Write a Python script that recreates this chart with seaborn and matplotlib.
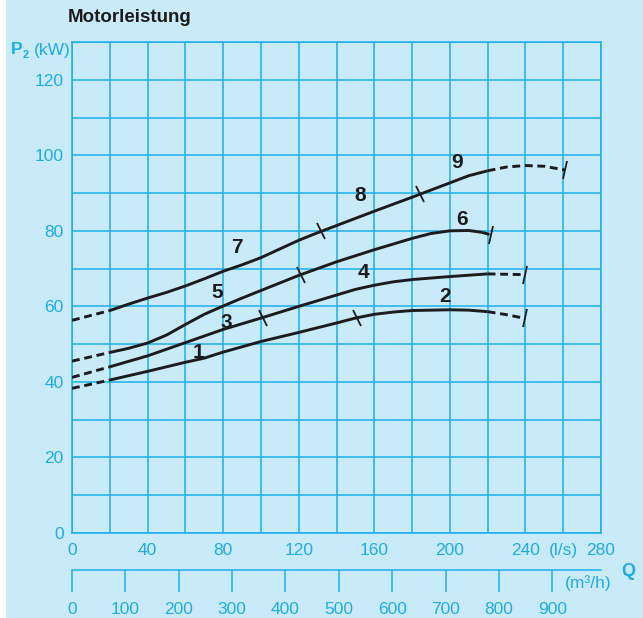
import numpy as np
import pandas as pd
import matplotlib
matplotlib.use("Agg")
import matplotlib.pyplot as plt
from matplotlib.markers import MarkerStyle
from matplotlib.transforms import Affine2D
from matplotlib.patches import Rectangle
import seaborn as sns

# ---- data: flow Q (l/s) against motor power P2 (kW) ----
# curve through operating points 7 - 8 - 9
q_a = [20, 30, 40, 50, 60, 70, 80, 90, 100, 110, 120, 130, 140, 160, 180, 200, 210, 220]
p_a = [58.9, 60.6, 62.2, 63.7, 65.4, 67.3, 69.3, 71.0, 72.9, 75.2, 77.5, 79.5, 81.4,
       85.2, 88.9, 92.7, 94.6, 95.9]
q_a_lo = [0, 20]
p_a_lo = [56.3, 58.9]
q_a_hi = [220, 230, 240, 250, 261]
p_a_hi = [95.9, 96.9, 97.3, 97.1, 96.1]

# curve through operating points 5 - 6
q_b = [20, 30, 40, 50, 60, 70, 80, 90, 100, 120, 140, 160, 180, 190, 200, 210, 217]
p_b = [47.8, 48.9, 50.3, 52.4, 55.2, 57.9, 60.1, 62.2, 64.2, 68.2, 71.8, 75.0, 78.0,
       79.3, 80.0, 80.1, 79.6]
q_b_lo = [0, 20]
p_b_lo = [45.5, 47.8]
q_b_hi = [217, 222]
p_b_hi = [79.6, 78.9]

# curve through operating points 3 - 4
q_c = [20, 40, 60, 80, 100, 120, 140, 150, 160, 170, 180, 200, 220]
p_c = [44.0, 46.9, 50.4, 53.9, 56.9, 60.0, 63.0, 64.5, 65.6, 66.5, 67.1, 67.9, 68.6]
q_c_lo = [0, 20]
p_c_lo = [41.2, 44.0]
q_c_hi = [220, 230, 240]
p_c_hi = [68.6, 68.5, 68.4]

# curve through operating points 1 - 2
q_d = [20, 40, 60, 70, 80, 90, 100, 120, 140, 150, 160, 170, 180, 200, 210, 220]
p_d = [40.5, 42.8, 45.2, 46.3, 47.9, 49.3, 50.7, 53.1, 55.6, 56.9, 57.9, 58.5, 58.9,
       59.1, 59.0, 58.6]
q_d_lo = [0, 20]
p_d_lo = [38.3, 40.5]
q_d_hi = [220, 230, 240]
p_d_hi = [58.6, 57.8, 56.8]

# boundary ticks between operating ranges, and end-of-curve ticks (Q in l/s)
split_ticks = {"a": [132, 184], "b": [121], "c": [101], "d": [151]}
end_ticks = {"a": [261], "b": [222], "c": [240], "d": [240]}

# operating point numbers: text, Q, P
point_labels = ["1", "2", "3", "4", "5", "6", "7", "8", "9"]
point_q = [67.2, 197.5, 81.5, 154.0, 76.8, 206.4, 87.4, 152.5, 203.8]
point_p = [47.8, 62.6, 55.8, 69.0, 63.7, 83.0, 75.6, 89.4, 98.1]

x_ticks = list(range(0, 281, 20))
x_labels = ["0", "", "40", "", "80", "", "120", "", "160", "", "200", "", "240", "(l/s)", "280"]
y_ticks = list(range(0, 131, 10))
y_labels = ["0", "", "20", "", "40", "", "60", "", "80", "", "100", "", "120", ""]
m3h_ticks = list(range(0, 1000, 100))
M3H_PER_LS = 3.54

# ---- style ----
BG = "#c8eaf9"
BLUE = "#1cafea"
TXT = "#22ace6"
INK = "#1c1c1c"
W, H = 643, 618

sns.set_theme(style="white")
plt.rcParams["font.family"] = ["Liberation Sans", "DejaVu Sans"]

fig = plt.figure(figsize=(W / 100, H / 100), dpi=100)
fig.patch.set_facecolor("white")
fig.add_artist(Rectangle((6 / W, 0), 1, 1, transform=fig.transFigure,
                         facecolor=BG, edgecolor="none", zorder=-10))

ax = fig.add_axes([72 / W, 85 / H, 529 / W, 491 / H])
ax.set_facecolor(BG)

# long-form table of all line pieces
rows = []
pieces = {
    "a": [(q_a_lo, p_a_lo, "dash"), (q_a, p_a, "solid"), (q_a_hi, p_a_hi, "dash")],
    "b": [(q_b_lo, p_b_lo, "dash"), (q_b, p_b, "solid"), (q_b_hi, p_b_hi, "dash")],
    "c": [(q_c_lo, p_c_lo, "dash"), (q_c, p_c, "solid"), (q_c_hi, p_c_hi, "dash")],
    "d": [(q_d_lo, p_d_lo, "dash"), (q_d, p_d, "solid"), (q_d_hi, p_d_hi, "dash")],
}
for name, parts in pieces.items():
    for i, (qs, ps, kind) in enumerate(parts):
        for q, p in zip(qs, ps):
            rows.append({"seg": f"{name}{i}", "kind": kind, "Q": q, "P": p})
df = pd.DataFrame(rows)

sns.lineplot(data=df, x="Q", y="P", units="seg", estimator=None, sort=False,
             style="kind", dashes={"solid": "", "dash": (2.7, 1.6)},
             color=INK, linewidth=2.1, legend=False, ax=ax, zorder=3)
for ln in ax.get_lines():
    ln.set_solid_joinstyle("round")
    ln.set_solid_capstyle("butt")

def curve_value(name, q):
    parts = pieces[name]
    qs = np.concatenate([np.asarray(p[0], float) for p in parts])
    ps = np.concatenate([np.asarray(p[1], float) for p in parts])
    order = np.argsort(qs, kind="stable")
    return np.interp(q, qs[order], ps[order])

def draw_ticks(ticks, angle):
    mk = MarkerStyle("|", transform=Affine2D().rotate_deg(angle))
    for name, qs in ticks.items():
        for q in qs:
            ax.plot([q], [curve_value(name, q)], linestyle="none", marker=mk,
                    markersize=13, markeredgewidth=1.3, color=INK, zorder=4)

draw_ticks(split_ticks, 26)
draw_ticks(end_ticks, -15)

for t, q, p in zip(point_labels, point_q, point_p):
    ax.text(q, p, t, ha="center", va="center", fontsize=15,
            fontweight="bold", color=INK, zorder=5)

ax.set_xlim(0, 280)
ax.set_ylim(0, 130)
ax.set_xticks(x_ticks)
ax.set_xticklabels(x_labels)
ax.set_yticks(y_ticks)
ax.set_yticklabels(y_labels)
ax.set_xlabel("")
ax.set_ylabel("")
ax.set_axisbelow(True)
ax.grid(True, color=BLUE, linewidth=1.1)
ax.tick_params(axis="both", length=0, labelsize=12.5, labelcolor=TXT)
ax.tick_params(axis="x", pad=7)
ax.tick_params(axis="y", pad=6)
for s in ax.spines.values():
    s.set_visible(True)
    s.set_color(BLUE)
    s.set_linewidth(1.1)

# second flow scale in m3/h
sec = ax.secondary_xaxis(-37 / 491, functions=(lambda q: q * M3H_PER_LS,
                                               lambda m: m / M3H_PER_LS))
sec.set_xticks(m3h_ticks)
sec.tick_params(direction="out", length=15.8, width=1.1, color=BLUE,
                labelcolor=TXT, labelsize=12.5, pad=7)
for s in sec.spines.values():
    s.set_color(BLUE)
    s.set_linewidth(1.1)

def px(x, y):
    return x / W, 1 - y / H

fig.text(*px(68, 18), "Motorleistung", ha="left", va="center",
         fontsize=13.5, fontweight="bold", color=INK)
fig.text(*px(11, 49), "P", ha="left", va="center", fontsize=12.5,
         fontweight="bold", color=TXT)
fig.text(*px(23, 55), "2", ha="left", va="center", fontsize=8,
         fontweight="bold", color=TXT)
fig.text(*px(33.5, 50), "(kW)", ha="left", va="center", fontsize=12.5, color=TXT)
fig.text(*px(628, 572), "Q", ha="center", va="center", fontsize=13,
         fontweight="bold", color=TXT)
fig.text(*px(588, 583), "(m³/h)", ha="center", va="center", fontsize=12.5,
         color=TXT)

fig.savefig("out.png", dpi=100, facecolor=fig.get_facecolor())
